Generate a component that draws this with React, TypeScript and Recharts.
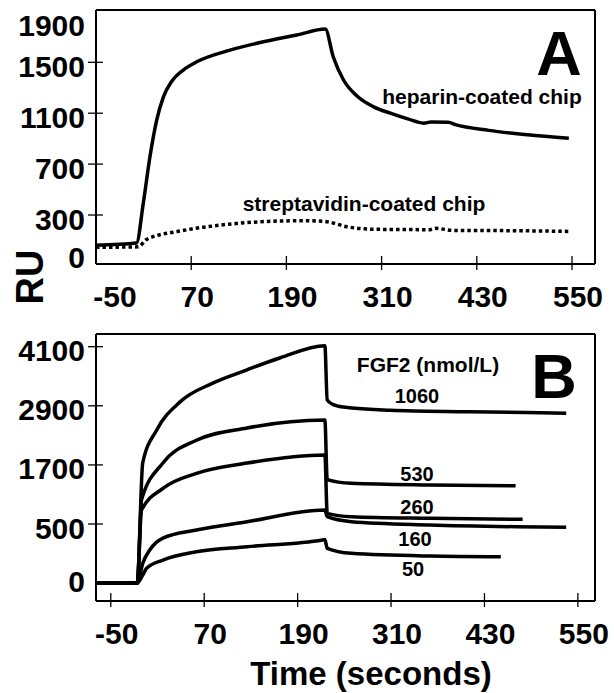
import React from 'react';
import { LineChart, Line, XAxis, YAxis, ReferenceLine } from 'recharts';

const FONT = '"Liberation Sans", Arial, Helvetica, sans-serif';

// shared time ticks (seconds)
const xTicks = [-50, 70, 190, 310, 430, 550];

// panel A: heparin vs streptavidin chip
const yTicksA = [0, 300, 700, 1100, 1500, 1900];
const heparinTime = [-50, 1, 9.6, 18, 26.5, 35, 45, 60, 77, 119, 161, 203, 239, 249, 262, 279, 300, 321, 343, 363, 372, 394, 403, 445, 494, 546];
const heparinRU = [62, 80, 392, 758, 1046, 1229, 1347, 1439, 1504, 1596, 1661, 1714, 1761, 1544, 1361, 1235, 1150, 1100, 1055, 1022, 1030, 1028, 1010, 965, 930, 903];
const streptTime = [-50, 3, 14, 56, 98, 140, 182, 216, 241, 266, 300, 371, 378, 400, 469, 548];
const streptRU = [46, 50, 109, 174, 214, 240, 253, 255, 247, 208, 188, 185, 195, 179, 177, 171];

// panel B: FGF2 concentrations (nmol/L)
const yTicksB = [0, 500, 1700, 2900, 4100];
const fgf1060Time = [-68, -16, -9, 9, 39, 81, 125, 167, 225, 228, 235, 249, 309, 410, 535];
const fgf1060RU = [0, 0, 1740, 2410, 2980, 3360, 3630, 3870, 4120, 3020, 2930, 2875, 2810, 2780, 2750];
const fgf530Time = [-68, -16, -10.5, 17, 60, 125, 225, 228, 259, 360, 470];
const fgf530RU = [0, 0, 990, 1740, 2200, 2450, 2610, 1400, 1326, 1292, 1277];
const fgf260Time = [-68, -16, -10.5, 17, 60, 125, 225, 228, 259, 360, 479];
const fgf260RU = [0, 0, 784, 1225, 1529, 1738, 1901, 717, 648, 616, 595];
const fgf160Time = [-68, -16, -9, 0, 17, 60, 125, 225, 228, 259, 360, 470, 535];
const fgf160RU = [0, 0, 167, 280, 381, 449, 547, 784, 648, 547, 492, 477, 472];
const fgf50Time = [-68, -16, -9, -4, 17, 60, 125, 222, 225, 228, 259, 360, 451];
const fgf50RU = [0, 0, 68, 125, 195, 265, 308, 364, 370, 294, 252, 229, 223];

const rows = (t: number[], ru: number[]) => t.map((time, i) => ({ t: time, ru: ru[i] }));

// the B axis is stretched below 500 RU in the original figure
const KNEE = 500;
const STRETCH = 2.4;
const warp = (v: number) => (v >= KNEE ? v : KNEE - (KNEE - v) * STRETCH);
const unwarp = (w: number) => (w >= KNEE ? w : KNEE - (KNEE - w) / STRETCH);

const X_DOMAIN_A: [number, number] = [-50, 579];
const Y_DOMAIN_A: [number, number] = [-85, 1911];
const X_DOMAIN_B: [number, number] = [-69, 572];
const Y_DOMAIN_B: [number, number] = [-1063, 4358];

const axisLine = { stroke: '#000', strokeWidth: 2 };
const LINE_W = 3.5;

function XTick(props: any) {
  const { x, y, payload, panel } = props;
  const v = payload.value;
  const noMark = panel === 'A' && v === -50;
  const dx = panel === 'A' && v === -50 ? 19 : 6;
  return (
    <g>
      {!noMark && <line x1={x} y1={y - 8} x2={x} y2={y + 6} stroke="#000" strokeWidth={1.3} />}
      <text x={x + dx} y={y + 43} textAnchor="middle" fontFamily={FONT} fontWeight="bold" fontSize={30} fill="#000">
        {v}
      </text>
    </g>
  );
}

function YTick(props: any) {
  const { x, y, payload, panel } = props;
  const v = panel === 'B' ? Math.round(unwarp(payload.value)) : payload.value;
  const noMark = v === 0 || v === 1900;
  const dy = v === 1900 ? 14 : panel === 'B' && v === 0 ? -2 : 4;
  return (
    <g>
      {!noMark && <line x1={x - 8} y1={y} x2={x + 7} y2={y} stroke="#000" strokeWidth={1.3} />}
      <text x={x - 11} y={y + dy} textAnchor="end" dominantBaseline="central" fontFamily={FONT} fontWeight="bold" fontSize={30} fill="#000">
        {v}
      </text>
    </g>
  );
}

const bold = { fontFamily: FONT, fontWeight: 'bold' as const, fill: '#000' };

function PanelA() {
  return (
    <LineChart width={614} height={320} margin={{ top: 10, right: 19, bottom: 0, left: 0 }}>
      <XAxis
        dataKey="t"
        type="number"
        domain={X_DOMAIN_A}
        allowDataOverflow
        ticks={xTicks}
        interval={0}
        height={56}
        tickSize={0}
        tickMargin={0}
        tickLine={false}
        axisLine={axisLine}
        tick={(p: any) => <XTick {...p} panel="A" />}
      />
      <YAxis
        type="number"
        domain={Y_DOMAIN_A}
        allowDataOverflow
        ticks={yTicksA}
        interval={0}
        width={96}
        tickSize={0}
        tickMargin={0}
        tickLine={false}
        axisLine={axisLine}
        tick={(p: any) => <YTick {...p} panel="A" />}
      />
      <ReferenceLine y={Y_DOMAIN_A[1]} stroke="#000" strokeWidth={2} />
      <ReferenceLine x={X_DOMAIN_A[1]} stroke="#000" strokeWidth={2} />
      <Line
        data={rows(streptTime, streptRU)}
        dataKey="ru"
        type="monotone"
        stroke="#000"
        strokeWidth={LINE_W}
        strokeDasharray="3.5 3"
        dot={false}
        isAnimationActive={false}
      />
      <Line
        data={rows(heparinTime, heparinRU)}
        dataKey="ru"
        type="monotone"
        stroke="#000"
        strokeWidth={LINE_W}
        dot={false}
        isAnimationActive={false}
      />
      <text x={559} y={75} textAnchor="middle" fontSize={63} {...bold}>A</text>
      <text x={482} y={104} textAnchor="middle" fontSize={21} {...bold}>heparin-coated chip</text>
      <text x={364} y={211} textAnchor="middle" fontSize={21} {...bold}>streptavidin-coated chip</text>
      <text x={30} y={277} textAnchor="middle" dominantBaseline="central" fontSize={38} transform="rotate(-90 30 277)" {...bold}>RU</text>
    </LineChart>
  );
}

const seriesB = [
  { name: '1060', t: fgf1060Time, ru: fgf1060RU },
  { name: '530', t: fgf530Time, ru: fgf530RU },
  { name: '260', t: fgf260Time, ru: fgf260RU },
  { name: '160', t: fgf160Time, ru: fgf160RU },
  { name: '50', t: fgf50Time, ru: fgf50RU },
];

function PanelB() {
  return (
    <LineChart width={614} height={373} margin={{ top: 14, right: 19, bottom: 0, left: 0 }}>
      <XAxis
        dataKey="t"
        type="number"
        domain={X_DOMAIN_B}
        allowDataOverflow
        ticks={xTicks}
        interval={0}
        height={92}
        tickSize={0}
        tickMargin={0}
        tickLine={false}
        axisLine={axisLine}
        tick={(p: any) => <XTick {...p} panel="B" />}
      />
      <YAxis
        type="number"
        domain={Y_DOMAIN_B}
        allowDataOverflow
        ticks={yTicksB.map(warp)}
        interval={0}
        width={96}
        tickSize={0}
        tickMargin={0}
        tickLine={false}
        axisLine={axisLine}
        tick={(p: any) => <YTick {...p} panel="B" />}
      />
      <ReferenceLine y={Y_DOMAIN_B[1]} stroke="#000" strokeWidth={2} />
      <ReferenceLine x={X_DOMAIN_B[1]} stroke="#000" strokeWidth={2} />
      {seriesB.map((s) => (
        <Line
          key={s.name}
          data={rows(s.t, s.ru)}
          dataKey={(d: any) => warp(d.ru)}
          type="monotone"
          stroke="#000"
          strokeWidth={LINE_W}
          dot={false}
          isAnimationActive={false}
        />
      ))}
      <text x={428} y={52} textAnchor="middle" fontSize={21} {...bold}>FGF2 (nmol/L)</text>
      <text x={554} y={78} textAnchor="middle" fontSize={63} {...bold}>B</text>
      <text x={417} y={83} textAnchor="middle" fontSize={20} {...bold}>1060</text>
      <text x={417} y={161} textAnchor="middle" fontSize={20} {...bold}>530</text>
      <text x={417} y={194} textAnchor="middle" fontSize={20} {...bold}>260</text>
      <text x={415} y={226} textAnchor="middle" fontSize={20} {...bold}>160</text>
      <text x={413} y={256} textAnchor="middle" fontSize={20} {...bold}>50</text>
      <text x={371} y={365} textAnchor="middle" fontSize={33} {...bold}>Time (seconds)</text>
    </LineChart>
  );
}

export default function App() {
  return (
    <div style={{ position: 'absolute', left: 0, top: 0, width: 614, height: 693, background: '#fff' }}>
      <div style={{ position: 'absolute', left: 0, top: 0 }}>
        <PanelA />
      </div>
      <div style={{ position: 'absolute', left: 0, top: 320 }}>
        <PanelB />
      </div>
    </div>
  );
}
